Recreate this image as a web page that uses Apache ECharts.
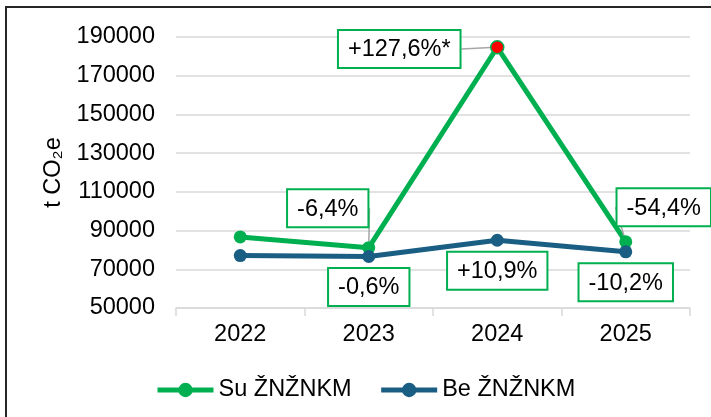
<!DOCTYPE html>
<html>
<head>
<meta charset="utf-8">
<script src="https://cdn.jsdelivr.net/npm/echarts@6/dist/echarts.min.js"></script>
<style>
    html, body { margin: 0; padding: 0; background: #fff; }
    #chartMain { width: 711px; height: 417px; }
</style>
</head>
<body>
<div id="chartMain"></div>
<script>
// data
const years = ['2022', '2023', '2024', '2025'];
const withValues = [86700, 81150, 184700, 84200];
const withoutValues = [77100, 76600, 85000, 79000];
const withChange = ['', '-6,4%', '+127,6%*', '-54,4%'];
const withoutChange = ['', '-0,6%', '+10,9%', '-10,2%'];
const seriesNames = ['Su ŽNŽNKM', 'Be ŽNŽNKM'];

const GREEN = '#00B050';
const BLUE = '#1A5E84';
const FONT = 'Liberation Sans, Arial, sans-serif';
const FS = 23.5;

// where the green labels get pushed (relative to their default 'top' spot)
const greenLabelShift = [[0, 0], [-41, -10], [-98, 32], [38, -5]];

const boxLabel = {
    color: '#000',
    fontFamily: FONT,
    fontSize: FS,
    backgroundColor: '#fff',
    borderColor: GREEN,
    borderWidth: 2,
    padding: [7, 9, 5, 9]
};

const toItems = (values, changes) => values.map(function (v, i) {
    return { value: v, label: { show: changes[i] !== '' } };
});

const totalChartInit = () => {
    var chartDom = document.getElementById('chartMain');
    var myChart = echarts.init(chartDom);
    var option;

    var greenData = toItems(withValues, withChange);
    greenData[2].itemStyle = { color: '#FF0000', borderColor: GREEN, borderWidth: 1.5 };

    option = {
        animation: false,
        textStyle: { fontFamily: FONT },
        graphic: [{
            type: 'rect',
            shape: { x: 6, y: 7, width: 800, height: 500 },
            style: { fill: 'none', stroke: '#262626', lineWidth: 2 },
            silent: true
        }],
        grid: {
            left: 176,
            right: 21,
            top: 37,
            bottom: 109
        },
        legend: {
            left: 150,
            top: 373,
            itemWidth: 56,
            itemHeight: 18,
            itemGap: 27,
            lineStyle: { width: 5 },
            textStyle: { color: '#000', fontSize: FS, fontFamily: FONT },
            data: seriesNames
        },
        xAxis: {
            type: 'category',
            data: years,
            axisLine: { lineStyle: { color: '#d9d9d9', width: 1.5 } },
            axisTick: { show: true, length: 8, lineStyle: { color: '#d9d9d9', width: 1.5 } },
            axisLabel: { color: '#000', fontSize: FS, fontFamily: FONT, margin: 15 }
        },
        yAxis: {
            type: 'value',
            min: 50000,
            max: 190000,
            interval: 20000,
            name: 't CO₂e',
            nameLocation: 'middle',
            nameGap: 101,
            nameTextStyle: { color: '#000', fontSize: FS, fontFamily: FONT },
            axisLine: { show: false },
            axisTick: { show: false },
            axisLabel: {
                color: '#000', fontSize: FS, fontFamily: FONT, margin: 21,
                formatter: function (v) { return String(v); }
            },
            splitLine: { lineStyle: { color: '#d9d9d9', width: 1.5 } }
        },
        series: [{
            name: seriesNames[0],
            type: 'line',
            data: greenData,
            symbol: 'circle',
            symbolSize: 13,
            lineStyle: { color: GREEN, width: 5 },
            itemStyle: { color: GREEN },
            label: Object.assign({
                position: 'top',
                distance: 5,
                formatter: function (p) { return withChange[p.dataIndex]; }
            }, boxLabel),
            labelLine: {
                show: true,
                lineStyle: { color: '#a6a6a6', width: 1.5 }
            },
            labelLayout: function (params) {
                var s = greenLabelShift[params.dataIndex];
                return { dx: s[0], dy: s[1] };
            },
            z: 2
        },
        {
            name: seriesNames[1],
            type: 'line',
            data: toItems(withoutValues, withoutChange),
            symbol: 'circle',
            symbolSize: 13,
            lineStyle: { color: BLUE, width: 5 },
            itemStyle: { color: BLUE },
            label: Object.assign({
                position: 'bottom',
                distance: 6,
                formatter: function (p) { return withoutChange[p.dataIndex]; }
            }, boxLabel),
            z: 3
        }]
    };

    option && myChart.setOption(option);
};

totalChartInit();
</script>
</body>
</html>
